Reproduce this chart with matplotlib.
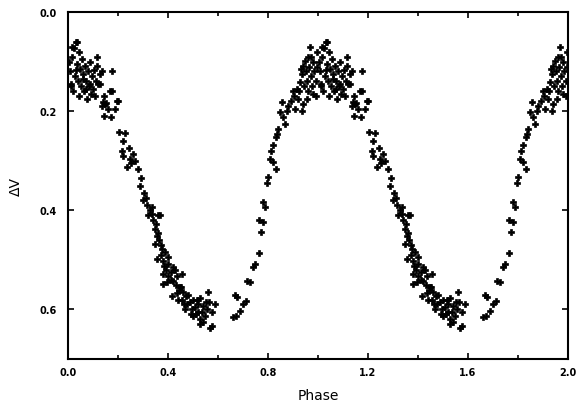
import matplotlib
matplotlib.use("Agg")
import matplotlib.pyplot as plt
from matplotlib.ticker import MultipleLocator

# One cycle of the light curve (phase in [0,1)); plotted twice (phase and phase+1)
phase = [
    0.004, 0.008, 0.012, 0.016, 0.020, 0.024, 0.028, 0.032, 0.036, 0.040,
    0.044, 0.044, 0.048, 0.052, 0.056, 0.060, 0.064, 0.068, 0.072, 0.076,
    0.080, 0.084, 0.088, 0.088, 0.092, 0.096, 0.100, 0.104, 0.108, 0.112,
    0.016, 0.036, 0.010, 0.030, 0.060, 0.070,
    0.116, 0.116, 0.120, 0.128, 0.128, 0.136, 0.140, 0.144, 0.144, 0.148,
    0.160, 0.168, 0.172, 0.176, 0.176, 0.188, 0.196, 0.200, 0.136, 0.152,
    0.204, 0.228, 0.220, 0.216, 0.220, 0.260, 0.248, 0.236, 0.252, 0.280,
    0.288, 0.304, 0.300, 0.316, 0.336, 0.320, 0.336, 0.340,
    0.244, 0.268, 0.292, 0.310, 0.326,
    0.360, 0.368, 0.348, 0.356, 0.360, 0.348, 0.364, 0.376, 0.388, 0.356,
    0.380, 0.372, 0.400, 0.392, 0.420, 0.380, 0.400, 0.410, 0.436, 0.456,
    0.380, 0.420, 0.430, 0.448, 0.436, 0.460, 0.416, 0.440, 0.456, 0.470,
    0.560, 0.528, 0.500, 0.488, 0.468, 0.508, 0.520, 0.540, 0.588, 0.576,
    0.500, 0.528, 0.548, 0.520, 0.528, 0.576, 0.568, 0.540, 0.490, 0.556,
    0.400, 0.410, 0.445, 0.475, 0.480, 0.512, 0.535, 0.550,
    0.352, 0.370, 0.384, 0.396, 0.426, 0.452, 0.464, 0.496, 0.516, 0.564,
    0.660, 0.672, 0.688, 0.700, 0.712, 0.668, 0.676, 0.716, 0.728, 0.740,
    0.748, 0.764, 0.772, 0.764, 0.780, 0.780, 0.788, 0.796, 0.800, 0.832,
    0.808, 0.820, 0.812, 0.820, 0.832, 0.836, 0.840, 0.868, 0.860, 0.848,
    0.876, 0.856, 0.880, 0.908, 0.936, 0.940, 0.920, 0.916, 0.928, 0.936,
    0.940, 0.948, 0.960, 0.968, 0.996,
    0.950, 0.955, 0.960, 0.965, 0.970, 0.975, 0.980, 0.985, 0.990, 0.990,
    0.995, 0.905, 0.890, 0.925, 0.945, 0.955, 0.970, 0.980, 0.900, 0.930,
]
dv = [
    0.100, 0.120, 0.145, 0.090, 0.160, 0.073, 0.130, 0.060, 0.105, 0.140,
    0.081, 0.170, 0.115, 0.150, 0.095, 0.125, 0.160, 0.108, 0.140, 0.175,
    0.120, 0.150, 0.145, 0.100, 0.165, 0.130, 0.155, 0.118, 0.170, 0.140,
    0.071, 0.060, 0.150, 0.118, 0.135, 0.155,
    0.090, 0.109, 0.145, 0.125, 0.145, 0.120, 0.182, 0.170, 0.210, 0.186,
    0.196, 0.160, 0.212, 0.120, 0.160, 0.196, 0.180, 0.180, 0.190, 0.184,
    0.242, 0.244, 0.260, 0.280, 0.290, 0.287, 0.297, 0.313, 0.305, 0.317,
    0.350, 0.366, 0.380, 0.390, 0.394, 0.410, 0.408, 0.420,
    0.275, 0.300, 0.335, 0.375, 0.400,
    0.410, 0.410, 0.438, 0.452, 0.445, 0.469, 0.460, 0.479, 0.485, 0.499,
    0.503, 0.490, 0.509, 0.520, 0.515, 0.529, 0.533, 0.525, 0.533, 0.529,
    0.549, 0.543, 0.550, 0.554, 0.566, 0.564, 0.572, 0.580, 0.580, 0.572,
    0.564, 0.576, 0.580, 0.586, 0.600, 0.596, 0.590, 0.594, 0.590, 0.606,
    0.614, 0.620, 0.614, 0.605, 0.630, 0.634, 0.638, 0.626, 0.610, 0.600,
    0.495, 0.540, 0.560, 0.590, 0.570, 0.610, 0.605, 0.585,
    0.428, 0.470, 0.512, 0.545, 0.520, 0.555, 0.590, 0.600, 0.580, 0.585,
    0.616, 0.614, 0.604, 0.590, 0.582, 0.570, 0.574, 0.543, 0.545, 0.515,
    0.509, 0.487, 0.444, 0.420, 0.424, 0.384, 0.394, 0.345, 0.333, 0.317,
    0.297, 0.303, 0.281, 0.269, 0.253, 0.246, 0.236, 0.226, 0.212, 0.202,
    0.200, 0.182, 0.190, 0.196, 0.200, 0.186, 0.176, 0.156, 0.141, 0.125,
    0.109, 0.099, 0.091, 0.071, 0.081,
    0.120, 0.140, 0.160, 0.110, 0.130, 0.150, 0.100, 0.120, 0.140, 0.170,
    0.110, 0.170, 0.180, 0.160, 0.150, 0.175, 0.090, 0.165, 0.160, 0.115,
]

x_ticks = [0.0, 0.4, 0.8, 1.2, 1.6, 2.0]
y_ticks = [0.0, 0.2, 0.4, 0.6]

fig = plt.figure(figsize=(5.78, 4.10), dpi=100)
ax = fig.add_axes([68 / 578, 50 / 410, 500 / 578, 347 / 410])

for shift in (0.0, 1.0):
    ax.plot([p + shift for p in phase], dv, linestyle="none", marker="P",
            markersize=4.2, color="black", markeredgewidth=0.5)

ax.set_xlim(0.0, 2.0)
ax.set_ylim(0.7, 0.0)
ax.set_xticks(x_ticks)
ax.set_yticks(y_ticks)
ax.xaxis.set_minor_locator(MultipleLocator(0.2))
ax.set_xticklabels([f"{t:.1f}" for t in x_ticks], fontsize=7, fontweight="bold")
ax.set_yticklabels([f"{t:.1f}" for t in y_ticks], fontsize=7, fontweight="bold")
ax.tick_params(which="both", direction="in", top=True, right=True, width=1.2)
ax.tick_params(axis="x", which="major", length=4, pad=6)
ax.tick_params(axis="y", which="major", length=4, pad=8)
ax.tick_params(which="minor", length=3)
for s in ax.spines.values():
    s.set_linewidth(1.5)

ax.set_xlabel("Phase", fontsize=10, labelpad=8)
ax.set_ylabel("ΔV", fontsize=10, labelpad=12)

fig.savefig("out.png", dpi=100)
